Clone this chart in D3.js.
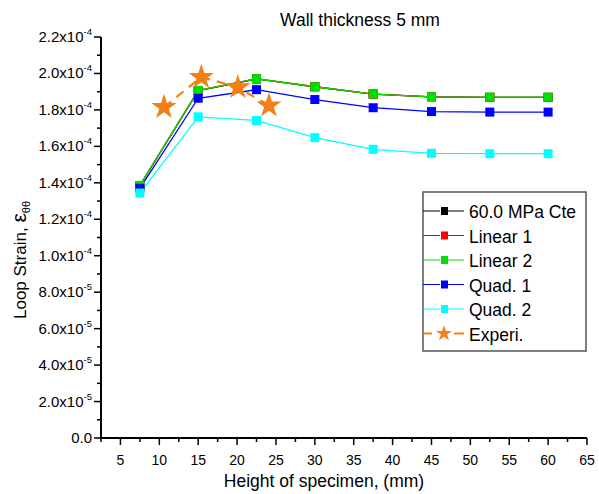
<!DOCTYPE html>
<html>
<head>
<meta charset="utf-8">
<script src="https://cdn.jsdelivr.net/npm/d3@7"></script>
<style>
  body { margin: 0; background: #fff; }
  svg { font-family: Arial, "Liberation Sans", sans-serif; }
</style>
</head>
<body>
<div id="chart"></div>
<script>
var w = 599, h = 494;
var marg = { top: 37, right: 12, bottom: 56, left: 101 };

// heights of specimen (mm)
var heights = [7.5, 15, 22.5, 30, 37.5, 45, 52.5, 60];

// loop strain values
var cte60   = [1.385e-4, 1.906e-4, 1.970e-4, 1.927e-4, 1.887e-4, 1.872e-4, 1.869e-4, 1.869e-4];
var linear1 = [1.385e-4, 1.906e-4, 1.970e-4, 1.927e-4, 1.887e-4, 1.872e-4, 1.869e-4, 1.869e-4];
var linear2 = [1.386e-4, 1.907e-4, 1.971e-4, 1.927e-4, 1.887e-4, 1.872e-4, 1.870e-4, 1.870e-4];
var quad1   = [1.370e-4, 1.864e-4, 1.911e-4, 1.857e-4, 1.812e-4, 1.791e-4, 1.788e-4, 1.788e-4];
var quad2   = [1.344e-4, 1.762e-4, 1.742e-4, 1.648e-4, 1.584e-4, 1.562e-4, 1.560e-4, 1.560e-4];

var expHeights = [10.6, 15.4, 20.1, 24.1];
var expStrain  = [1.815e-4, 1.980e-4, 1.924e-4, 1.824e-4];

var xTicks = [5, 10, 15, 20, 25, 30, 35, 40, 45, 50, 55, 60, 65];
var yTicks = [0, 2e-5, 4e-5, 6e-5, 8e-5, 1e-4, 1.2e-4, 1.4e-4, 1.6e-4, 1.8e-4, 2e-4, 2.2e-4];

var series = [
  { name: "60.0 MPa Cte", values: cte60,   color: "#000000" },
  { name: "Linear 1",     values: linear1, color: "#ff0000" },
  { name: "Linear 2",     values: linear2, color: "#00e000" },
  { name: "Quad. 1",      values: quad1,   color: "#0000ff" },
  { name: "Quad. 2",      values: quad2,   color: "#00ffff" }
];
var expColor = "#f57f17";

var svg = d3.select("#chart").append("svg")
  .attr("width", w).attr("height", h);

var x = d3.scaleLinear().domain([2.5, 65]).range([marg.left, w - marg.right]);
var y = d3.scaleLinear().domain([0, 2.2e-4]).range([h - marg.bottom, marg.top]);

var x0 = x.range()[0], y0 = y.range()[0];

// minor ticks
var xMinor = d3.range(2.5, 65, 5);
svg.append("g").selectAll("line").data(xMinor).enter().append("line")
  .attr("x1", function(d) { return x(d); }).attr("x2", function(d) { return x(d); })
  .attr("y1", y0).attr("y2", y0 + 4)
  .attr("stroke", "#000").attr("stroke-width", 1.5);
var yMinor = d3.range(1e-5, 2.2e-4, 2e-5);
svg.append("g").selectAll("line").data(yMinor).enter().append("line")
  .attr("y1", function(d) { return y(d); }).attr("y2", function(d) { return y(d); })
  .attr("x1", x0).attr("x2", x0 - 4)
  .attr("stroke", "#000").attr("stroke-width", 1.5);

// major x ticks
var gx = svg.append("g");
gx.selectAll("line").data(xTicks).enter().append("line")
  .attr("x1", function(d) { return x(d); }).attr("x2", function(d) { return x(d); })
  .attr("y1", y0).attr("y2", y0 + 7)
  .attr("stroke", "#000").attr("stroke-width", 1.5);
gx.selectAll("text").data(xTicks).enter().append("text")
  .attr("x", function(d) { return x(d); }).attr("y", y0 + 27)
  .attr("text-anchor", "middle").attr("font-size", 14)
  .text(function(d) { return d; });

// major y ticks
var gy = svg.append("g");
gy.selectAll("line").data(yTicks).enter().append("line")
  .attr("y1", function(d) { return y(d); }).attr("y2", function(d) { return y(d); })
  .attr("x1", x0).attr("x2", x0 - 7)
  .attr("stroke", "#000").attr("stroke-width", 1.5);
var yLab = gy.selectAll("text").data(yTicks).enter().append("text")
  .attr("x", x0 - 9).attr("y", function(d) { return y(d) + 5; })
  .attr("text-anchor", "end").attr("font-size", 15);
yLab.each(function(d) {
  var t = d3.select(this);
  if (d === 0) { t.text("0.0"); return; }
  var e = Math.floor(Math.log10(d) + 1e-9);
  var m = d / Math.pow(10, e);
  t.append("tspan").text(m.toFixed(1) + "x10");
  t.append("tspan").attr("dy", -7).attr("font-size", 9.5).text(String(e));
});

// axis lines
svg.append("line").attr("x1", x0).attr("x2", x0).attr("y1", y0 + 1).attr("y2", marg.top)
  .attr("stroke", "#000").attr("stroke-width", 2);
svg.append("line").attr("x1", x0 - 1).attr("x2", x.range()[1]).attr("y1", y0).attr("y2", y0)
  .attr("stroke", "#000").attr("stroke-width", 2);

// series
var line = d3.line()
  .x(function(d, i) { return x(heights[i]); })
  .y(function(d) { return y(d); });

var msz = 9;
series.forEach(function(s) {
  svg.append("path").datum(s.values)
    .attr("d", line).attr("fill", "none")
    .attr("stroke", s.color).attr("stroke-width", 1.3);
});
series.forEach(function(s) {
  svg.append("g").selectAll("rect").data(s.values).enter().append("rect")
    .attr("x", function(d, i) { return x(heights[i]) - msz / 2; })
    .attr("y", function(d) { return y(d) - msz / 2; })
    .attr("width", msz).attr("height", msz)
    .attr("fill", s.color);
});

// experimental
var star = d3.symbol().type(d3.symbolStar).size(200);
var expLine = d3.line()
  .x(function(d, i) { return x(expHeights[i]); })
  .y(function(d) { return y(d); });
svg.append("path").datum(expStrain)
  .attr("d", expLine).attr("fill", "none")
  .attr("stroke", expColor).attr("stroke-width", 2.2)
  .attr("stroke-dasharray", "9,7");
svg.append("g").selectAll("path").data(expStrain).enter().append("path")
  .attr("d", star)
  .attr("transform", function(d, i) { return "translate(" + x(expHeights[i]) + "," + y(d) + ")"; })
  .attr("fill", expColor);

// legend
var lg = svg.append("g").attr("transform", "translate(423,192)");
lg.append("rect").attr("width", 163).attr("height", 159)
  .attr("fill", "#fff").attr("stroke", "#555").attr("stroke-width", 1.5);
var legItems = series.map(function(s) { return { name: s.name, color: s.color, exp: false }; });
legItems.push({ name: "Experi.", color: expColor, exp: true });
legItems.forEach(function(d, i) {
  var yy = 19 + i * 24.5;
  var g = lg.append("g").attr("transform", "translate(0," + yy + ")");
  if (d.exp) {
    g.append("line").attr("x1", 0).attr("x2", 9).attr("stroke", d.color).attr("stroke-width", 2);
    g.append("line").attr("x1", 31).attr("x2", 41).attr("stroke", d.color).attr("stroke-width", 2);
    g.append("path").attr("d", d3.symbol().type(d3.symbolStar).size(80))
      .attr("transform", "translate(21,0)").attr("fill", d.color);
  } else {
    g.append("line").attr("x1", 0).attr("x2", 41).attr("stroke", d.color).attr("stroke-width", 1.2);
    g.append("rect").attr("x", 17).attr("y", -4.5).attr("width", 8).attr("height", 9)
      .attr("fill", "#fff");
    g.append("rect").attr("x", 18).attr("y", -4).attr("width", 7).attr("height", 8)
      .attr("fill", d.color);
  }
  g.append("text").attr("x", 46).attr("y", 7).attr("font-size", 17.5).text(d.name);
});

// title and axis labels
svg.append("text").attr("x", 360).attr("y", 26).attr("text-anchor", "middle")
  .attr("font-size", 17.5).text("Wall thickness 5 mm");
svg.append("text").attr("x", 324).attr("y", 487).attr("text-anchor", "middle")
  .attr("font-size", 17.5).text("Height of specimen, (mm)");
var yt = svg.append("text").attr("transform", "translate(26,260) rotate(-90)")
  .attr("text-anchor", "middle").attr("font-size", 17);
yt.append("tspan").text("Loop Strain, ");
yt.append("tspan").attr("font-size", 21).text("ε");
yt.append("tspan").attr("dy", 4).attr("font-size", 11).text("θθ");
</script>
</body>
</html>
